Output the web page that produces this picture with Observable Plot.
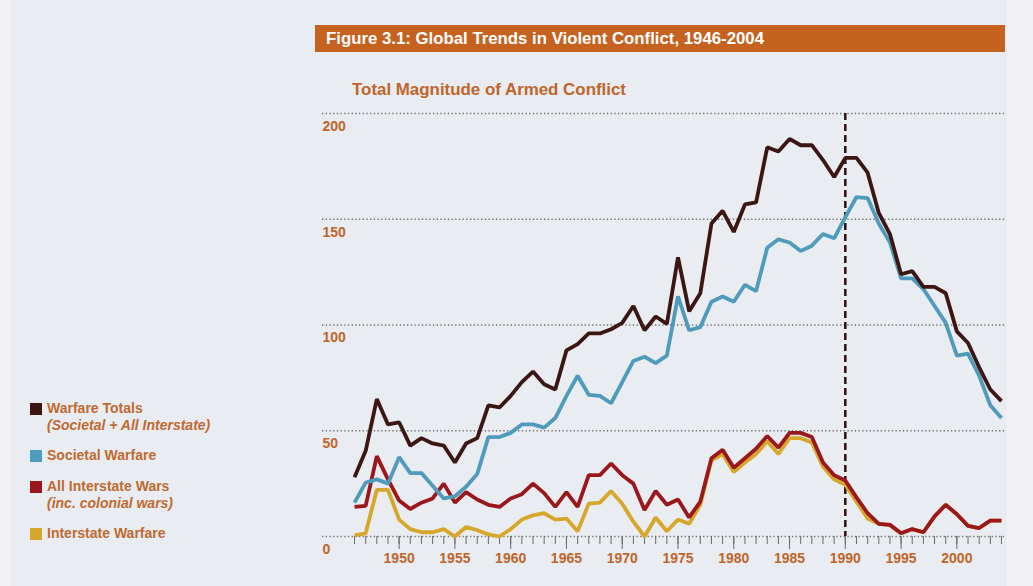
<!DOCTYPE html>
<html><head><meta charset="utf-8">
<script src="https://cdn.jsdelivr.net/npm/d3@7"></script>
<script src="https://cdn.jsdelivr.net/npm/@observablehq/plot@0.6"></script>
<style>
html,body{margin:0;padding:0;}
body{width:1033px;height:586px;position:relative;overflow:hidden;background:#f2f2f4;font-family:"Liberation Sans",Arial,Helvetica,sans-serif;}
#panel{position:absolute;left:10px;top:0;width:997px;height:586px;background:#e9ecf1;}
#title{position:absolute;left:315px;top:25px;width:690px;height:27px;background:#c5621f;color:#fff;font-weight:bold;font-size:16.8px;line-height:27px;padding-left:11px;box-sizing:border-box;white-space:nowrap;}
#subtitle{position:absolute;left:352px;top:80px;color:#c0652a;font-weight:bold;font-size:16.9px;white-space:nowrap;}
#chart{position:absolute;left:300px;top:100px;}
.leg{position:absolute;left:30px;color:#bf6a30;font-weight:bold;font-size:14px;white-space:nowrap;}
.leg .sw{position:absolute;left:0;width:12px;height:12px;}
.leg .t{position:absolute;left:17px;line-height:17px;}
.leg .s{font-style:italic;}
</style>
</head><body>
<div id="panel"></div>
<div id="title">Figure 3.1: Global Trends in Violent Conflict, 1946-2004</div>
<div id="subtitle">Total Magnitude of Armed Conflict</div>
<div id="legend"></div>
<div id="chart"></div>
<script>
// ---- data ----
const firstYear = 1946, lastYear = 2004;
const years = d3.range(firstYear, lastYear + 1);
const majorYears = [1950, 1955, 1960, 1965, 1970, 1975, 1980, 1985, 1990, 1995, 2000];
const yTicks = [0, 50, 100, 150, 200];
const markerYear = 1990;

const warfareTotals = [28, 40.5, 65, 53, 54, 43, 46.5, 44, 43, 35, 44, 46.5, 62, 61, 66.5, 73, 78, 72, 69.5, 88,
  91, 96, 96, 98, 101, 109, 97.5, 104, 100.5, 132, 106.5, 115, 148, 154, 144, 157, 158, 184, 182, 188,
  185, 185, 178, 170, 179, 179, 172, 153, 143, 124, 125.5, 118, 118, 115, 97, 91.5, 80, 69.5, 64];
const societalWarfare = [16, 25.5, 27, 25, 37.5, 30, 30, 24, 18, 19, 23.5, 29.5, 47, 47, 49, 53, 53, 51.5, 56, 66.5,
  76, 67, 66.5, 63, 73, 83, 85, 82, 85.5, 113.5, 97.5, 99, 111, 113.5, 111, 119, 116, 136.5, 140.5, 139,
  135, 137.5, 143, 141, 151, 160.5, 160, 148, 139, 122, 122, 117, 109, 101, 85.5, 86.5, 76, 62, 56];
const allInterstateWars = [14, 14.5, 38, 27, 17, 13, 16, 18, 25, 16, 21, 17.5, 15, 14, 18, 20, 25, 20.5, 14, 21,
  14, 29, 29, 34.5, 29, 25, 12.5, 21.5, 15, 17.5, 9, 16.5, 37, 41, 32.5, 37, 41.5, 47.5, 42, 49,
  49, 47, 35, 29, 26.5, 18.5, 11, 6, 5.5, 1.5, 3.5, 2, 9.5, 15, 10.5, 5, 4, 7.5, 7.5];
const interstateWarfare = [0.5, 1.5, 22, 22, 8, 3.5, 2, 2, 3.5, 0, 4.5, 3, 1, 0, 3.5, 8, 10, 11, 8, 8.5,
  2.5, 15.5, 16, 21.5, 15.5, 7, 0, 9, 2.5, 8, 6, 15, 36, 39, 30.5, 35, 39, 45, 39, 46.5,
  46.5, 44.5, 33, 27, 24.5, 16.5, 8.5, 6, 5.5, 1.5, 3.5, 2, 9.5, 15, 10.5, 5, 4, 7.5, 7.5];

const seriesNames = ["Warfare Totals", "Societal Warfare", "All Interstate Wars", "Interstate Warfare"];
const seriesSub = ["(Societal + All Interstate)", "", "(inc. colonial wars)", ""];
const seriesColors = ["#3b1612", "#4f9bbb", "#9a171b", "#d6a72a"];
const seriesValues = [warfareTotals, societalWarfare, allInterstateWars, interstateWarfare];
const legendTops = [400, 447, 478, 525];

// ---- legend ----
const legend = document.getElementById("legend");
seriesNames.forEach((name, i) => {
  const d = document.createElement("div");
  d.className = "leg";
  d.style.top = legendTops[i] + "px";
  d.innerHTML = `<div class="sw" style="top:3px;background:${seriesColors[i]}"></div>` +
    `<div class="t">${name}${seriesSub[i] ? `<br><span class="s">${seriesSub[i]}</span>` : ""}</div>`;
  legend.appendChild(d);
});

// ---- chart ----
const drawOrder = [3, 2, 1, 0];
const rows = [];
drawOrder.forEach(i => seriesValues[i].forEach((v, j) => rows.push({year: years[j], value: v, series: seriesNames[i]})));

const orange = "#c0652a";
const chart = Plot.plot({
  width: 733, height: 486,
  marginLeft: 22, marginRight: 28, marginTop: 13, marginBottom: 50,
  x: {domain: [1943.13, 2004.36]},
  y: {domain: [0, 200]},
  color: {domain: seriesNames, range: seriesColors},
  style: {background: "transparent", fontFamily: "'Liberation Sans', Arial, sans-serif", overflow: "visible"},
  marks: [
    Plot.ruleY(yTicks, {stroke: "#6f6f6f", strokeDasharray: "1.3,2.4", strokeWidth: 1.3}),
    Plot.axisY({ticks: yTicks, anchor: "left", tickSize: 0, tickPadding: 0, textAnchor: "start", dy: 13,
      fontSize: 14, fontWeight: "bold", fill: orange, label: null, tickFormat: d => String(d)}),
    Plot.axisX({ticks: years, tickSize: 8, tickFormat: () => "", stroke: "#6a6a6a", label: null}),
    Plot.axisX({ticks: majorYears, tickSize: 13, tickPadding: 4, tickFormat: d => String(d),
      fontSize: 14, fontWeight: "bold", fill: orange, stroke: "#6a6a6a", label: null}),
    Plot.ruleX([markerYear], {stroke: "#2b120d", strokeWidth: 2.5, strokeDasharray: "7,4"}),
    Plot.line(rows, {x: "year", y: "value", z: "series", stroke: "series", strokeWidth: 3.8,
      strokeLinejoin: "miter", strokeLinecap: "butt"})
  ]
});
document.getElementById("chart").appendChild(chart);
</script>
</body></html>
